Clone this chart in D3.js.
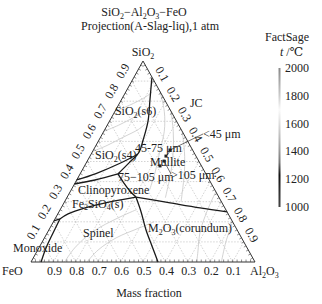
<!DOCTYPE html>
<html>
<head>
<meta charset="utf-8">
<title>SiO2-Al2O3-FeO projection</title>
<style>
  body { margin: 0; background: #fff; }
  svg text { font-family: "Liberation Serif", "DejaVu Serif", serif; font-size: 12px; fill: #222; }
</style>
</head>
<body>
<svg></svg>
<script src="https://cdn.jsdelivr.net/npm/d3@7/dist/d3.min.js"></script>
<script>
// compositions are [SiO2, Al2O3] mass fractions, FeO is the rest
const axisTicks = [0.1, 0.2, 0.3, 0.4, 0.5, 0.6, 0.7, 0.8, 0.9];

const boundaries = [
  // SiO2 / mullite
  [[0.915, 0.082], [0.806, 0.128], [0.701, 0.172], [0.607, 0.197], [0.547, 0.209], [0.493, 0.191], [0.438, 0.169]],
  // SiO2(s6) / SiO2(s4)
  [[0.408, 0], [0.44, 0.07], [0.49, 0.15], [0.535, 0.207]],
  // SiO2(s4) lower edge
  [[0.388, 0], [0.408, 0.082], [0.438, 0.169]],
  // mullite / clinopyroxene
  [[0.438, 0.169], [0.393, 0.218], [0.353, 0.265], [0.323, 0.307]],
  // mullite / corundum
  [[0.323, 0.307], [0.294, 0.474], [0.269, 0.620], [0.249, 0.751]],
  // corundum / spinel
  [[0.323, 0.307], [0.249, 0.367], [0.159, 0.434], [0.080, 0.500], [0, 0.567]],
  // Fe2SiO4 / spinel
  [[0.323, 0.307], [0.299, 0.203], [0.269, 0.107], [0.239, 0.046], [0.214, 0.022]],
  // monoxide / spinel
  [[0.214, 0.022], [0.134, 0.027], [0.070, 0.032], [0, 0.045]],
  // Fe2SiO4 / monoxide
  [[0.214, 0.022], [0.205, 0]]
];

const isotherms = [
  [[0.55, 0], [0.58, 0.05], [0.62, 0.10], [0.66, 0.15], [0.69, 0.168]],
  [[0.65, 0], [0.68, 0.05], [0.72, 0.10], [0.76, 0.145]],
  [[0.75, 0], [0.78, 0.05], [0.82, 0.10], [0.845, 0.118]],
  [[0.85, 0.15], [0.75, 0.22], [0.65, 0.27], [0.55, 0.30], [0.45, 0.33], [0.36, 0.35]],
  [[0.75, 0.25], [0.65, 0.31], [0.55, 0.36], [0.45, 0.40], [0.32, 0.44]],
  [[0.65, 0.35], [0.55, 0.41], [0.45, 0.46], [0.30, 0.52]],
  [[0.35, 0.65], [0.25, 0.66], [0.15, 0.68], [0.05, 0.72], [0, 0.74]],
  [[0.2, 0.8], [0.1, 0.82], [0, 0.85]],
  [[0, 0.25], [0.06, 0.27], [0.12, 0.32], [0.17, 0.40], [0.2, 0.45]],
  [[0, 0.15], [0.07, 0.16], [0.15, 0.2], [0.22, 0.28], [0.26, 0.34]]
];

const fieldLabels = [
  { text: "SiO_2(s6)", s: 0.731, a: 0.009 },
  { text: "SiO_2(s4)", s: 0.512, a: 0.030 },
  { text: "Mullite", s: 0.48, a: 0.291 },
  { text: "Clinopyroxene", s: 0.338, a: 0.041 },
  { text: "Fe_2SiO_4(s)", s: 0.269, a: 0.049 },
  { text: "Spinel", s: 0.124, a: 0.170 },
  { text: "Monoxide", s: 0.050, a: -0.105 },
  { text: "M_2O_3(corundum)", s: 0.149, a: 0.448 },
  { text: "JC", s: 0.771, a: 0.324 }
];

// slag samples by particle size
const sizeNames = ["<45 μm", "45-75 μm", "75−105 μm", ">105 μm"];
const sizeSiO2 = [0.557, 0.527, 0.478, 0.502];
const sizeAl2O3 = [0.342, 0.339, 0.337, 0.343];

const tempTicks = [1000, 1200, 1400, 1600, 1800, 2000];
const tempShades = [[1000, "#444"], [1100, "#333"], [1230, "#111"], [1320, "#777"], [1400, "#999"], [1500, "#bbb"],
  [1600, "#ddd"], [1700, "#fafafa"], [1800, "#ccc"], [1900, "#aaa"], [2000, "#888"]];

const width = 322, height = 304;
const svg = d3.select("svg").attr("width", width).attr("height", height);

const xs = d3.scaleLinear([0, 1], [31, 255]);
const ys = d3.scaleLinear([0, 1], [262, 61]);
const px = d => xs(d[1] + d[0] / 2);
const py = d => ys(d[0]);
const path = d3.line().x(px).y(py);
const smooth = d3.line().x(px).y(py).curve(d3.curveCatmullRom);

function rich(t, str) {
  const parts = str.split(/(_\d)/).filter(p => p);
  let sub = false;
  parts.forEach(p => {
    if (p[0] === "_") {
      t.append("tspan").attr("dy", 2.5).attr("font-size", 8).text(p.slice(1));
      sub = true;
    } else {
      t.append("tspan").attr("dy", sub ? -2.5 : 0).text(p);
      sub = false;
    }
  });
  return t;
}

// grid
const grid = svg.append("g").attr("stroke", "#b5b5b5").attr("stroke-width", 0.6)
  .attr("stroke-dasharray", "1.5,1.5").attr("fill", "none");
axisTicks.forEach(v => {
  grid.append("path").attr("d", path([[v, 0], [v, 1 - v]]));
  grid.append("path").attr("d", path([[0, v], [1 - v, v]]));
  grid.append("path").attr("d", path([[0, 1 - v], [1 - v, 0]]));
});

// isotherms
svg.append("g").selectAll("path").data(isotherms).join("path")
  .attr("d", smooth).attr("fill", "none").attr("stroke", "#c8c8c8").attr("stroke-width", 0.8);

// triangle + ticks
svg.append("path").attr("d", path([[0, 0], [0, 1], [1, 0], [0, 0]]))
  .attr("fill", "none").attr("stroke", "#333").attr("stroke-width", 1);
const minor = d3.range(1, 50).map(i => i / 50);
const tk = svg.append("g").attr("stroke", "#444").attr("stroke-width", 0.6);
minor.forEach(v => {
  let p = [0, v];
  tk.append("line").attr("x1", px(p)).attr("y1", py(p)).attr("x2", px(p)).attr("y2", py(p) - 2.5);
  p = [v, 0];
  tk.append("line").attr("x1", px(p)).attr("y1", py(p)).attr("x2", px(p) + 2.2).attr("y2", py(p) + 1.2);
  p = [v, 1 - v];
  tk.append("line").attr("x1", px(p)).attr("y1", py(p)).attr("x2", px(p) - 2.2).attr("y2", py(p) + 1.2);
});

// phase boundaries
svg.append("g").selectAll("path").data(boundaries).join("path")
  .attr("d", smooth).attr("fill", "none").attr("stroke", "#1a1a1a").attr("stroke-width", 1.3);

// axis labels
axisTicks.forEach(v => {
  const b = [0, 1 - v];
  svg.append("text").attr("x", px(b) + 1).attr("y", 275).attr("text-anchor", "middle").text(v.toFixed(1));
  const l = [v, 0];
  const lx = px(l) - 9, ly = py(l) - 10;
  svg.append("text").attr("transform", `translate(${lx},${ly}) rotate(-60)`)
    .attr("text-anchor", "middle").attr("dy", 4).text(v.toFixed(1));
  const r = [1 - v, v];
  const rx = px(r) + 8, ry = py(r) - 7;
  svg.append("text").attr("transform", `translate(${rx},${ry}) rotate(60)`)
    .attr("text-anchor", "middle").attr("dy", 4).text(v.toFixed(1));
});

svg.append("text").attr("x", 2).attr("y", 275).text("FeO");
rich(svg.append("text").attr("x", 250).attr("y", 275), "Al_2O_3");
rich(svg.append("text").attr("x", px([1, 0])).attr("y", 56).attr("text-anchor", "middle"), "SiO_2");
svg.append("text").attr("x", 149).attr("y", 297).attr("text-anchor", "middle").text("Mass fraction");

rich(svg.append("text").attr("x", 144).attr("y", 16).attr("text-anchor", "middle"), "SiO_2−Al_2O_3−FeO");
svg.append("text").attr("x", 150).attr("y", 30).attr("text-anchor", "middle").text("Projection(A-Slag-liq),1 atm");

// field labels
fieldLabels.forEach(d => {
  rich(svg.append("text").attr("x", px([d.s, d.a])).attr("y", py([d.s, d.a])), d.text);
});

// samples
const samples = sizeNames.map((n, i) => ({ name: n, s: sizeSiO2[i], a: sizeAl2O3[i] }));
const labelPos = [[203, 138], [135, 152], [118, 181], [171, 179]];
const leadFrom = [[203, 134], [172, 149], null, [171, 174]];
samples.forEach((d, i) => {
  const x = px([d.s, d.a]), y = py([d.s, d.a]);
  if (leadFrom[i]) {
    svg.append("line").attr("x1", leadFrom[i][0]).attr("y1", leadFrom[i][1]).attr("x2", x).attr("y2", y)
      .attr("stroke", "#333").attr("stroke-width", 0.7);
  }
  svg.append("rect").attr("x", x - 1.5).attr("y", y - 1.5).attr("width", 3).attr("height", 3).attr("fill", "#222");
  svg.append("text").attr("x", labelPos[i][0]).attr("y", labelPos[i][1]).text(d.name);
});

// colour bar
const ct = d3.scaleLinear([1000, 2000], [207, 68]);
const grad = svg.append("defs").append("linearGradient").attr("id", "tbar")
  .attr("x1", 0).attr("y1", 1).attr("x2", 0).attr("y2", 0);
grad.selectAll("stop").data(tempShades).join("stop")
  .attr("offset", d => (d[0] - 1000) / 1000).attr("stop-color", d => d[1]);
svg.append("rect").attr("x", 278.5).attr("y", ct(2000)).attr("width", 2)
  .attr("height", ct(1000) - ct(2000)).attr("fill", "url(#tbar)");
svg.append("g").selectAll("text").data(tempTicks).join("text")
  .attr("x", 285).attr("y", d => ct(d) + 4).text(d => d);
svg.append("text").attr("x", 265).attr("y", 41).text("FactSage");
const tl = svg.append("text").attr("x", 280).attr("y", 56);
tl.append("tspan").attr("font-style", "italic").text("t");
tl.append("tspan").text(" /℃");
</script>
</body>
</html>
